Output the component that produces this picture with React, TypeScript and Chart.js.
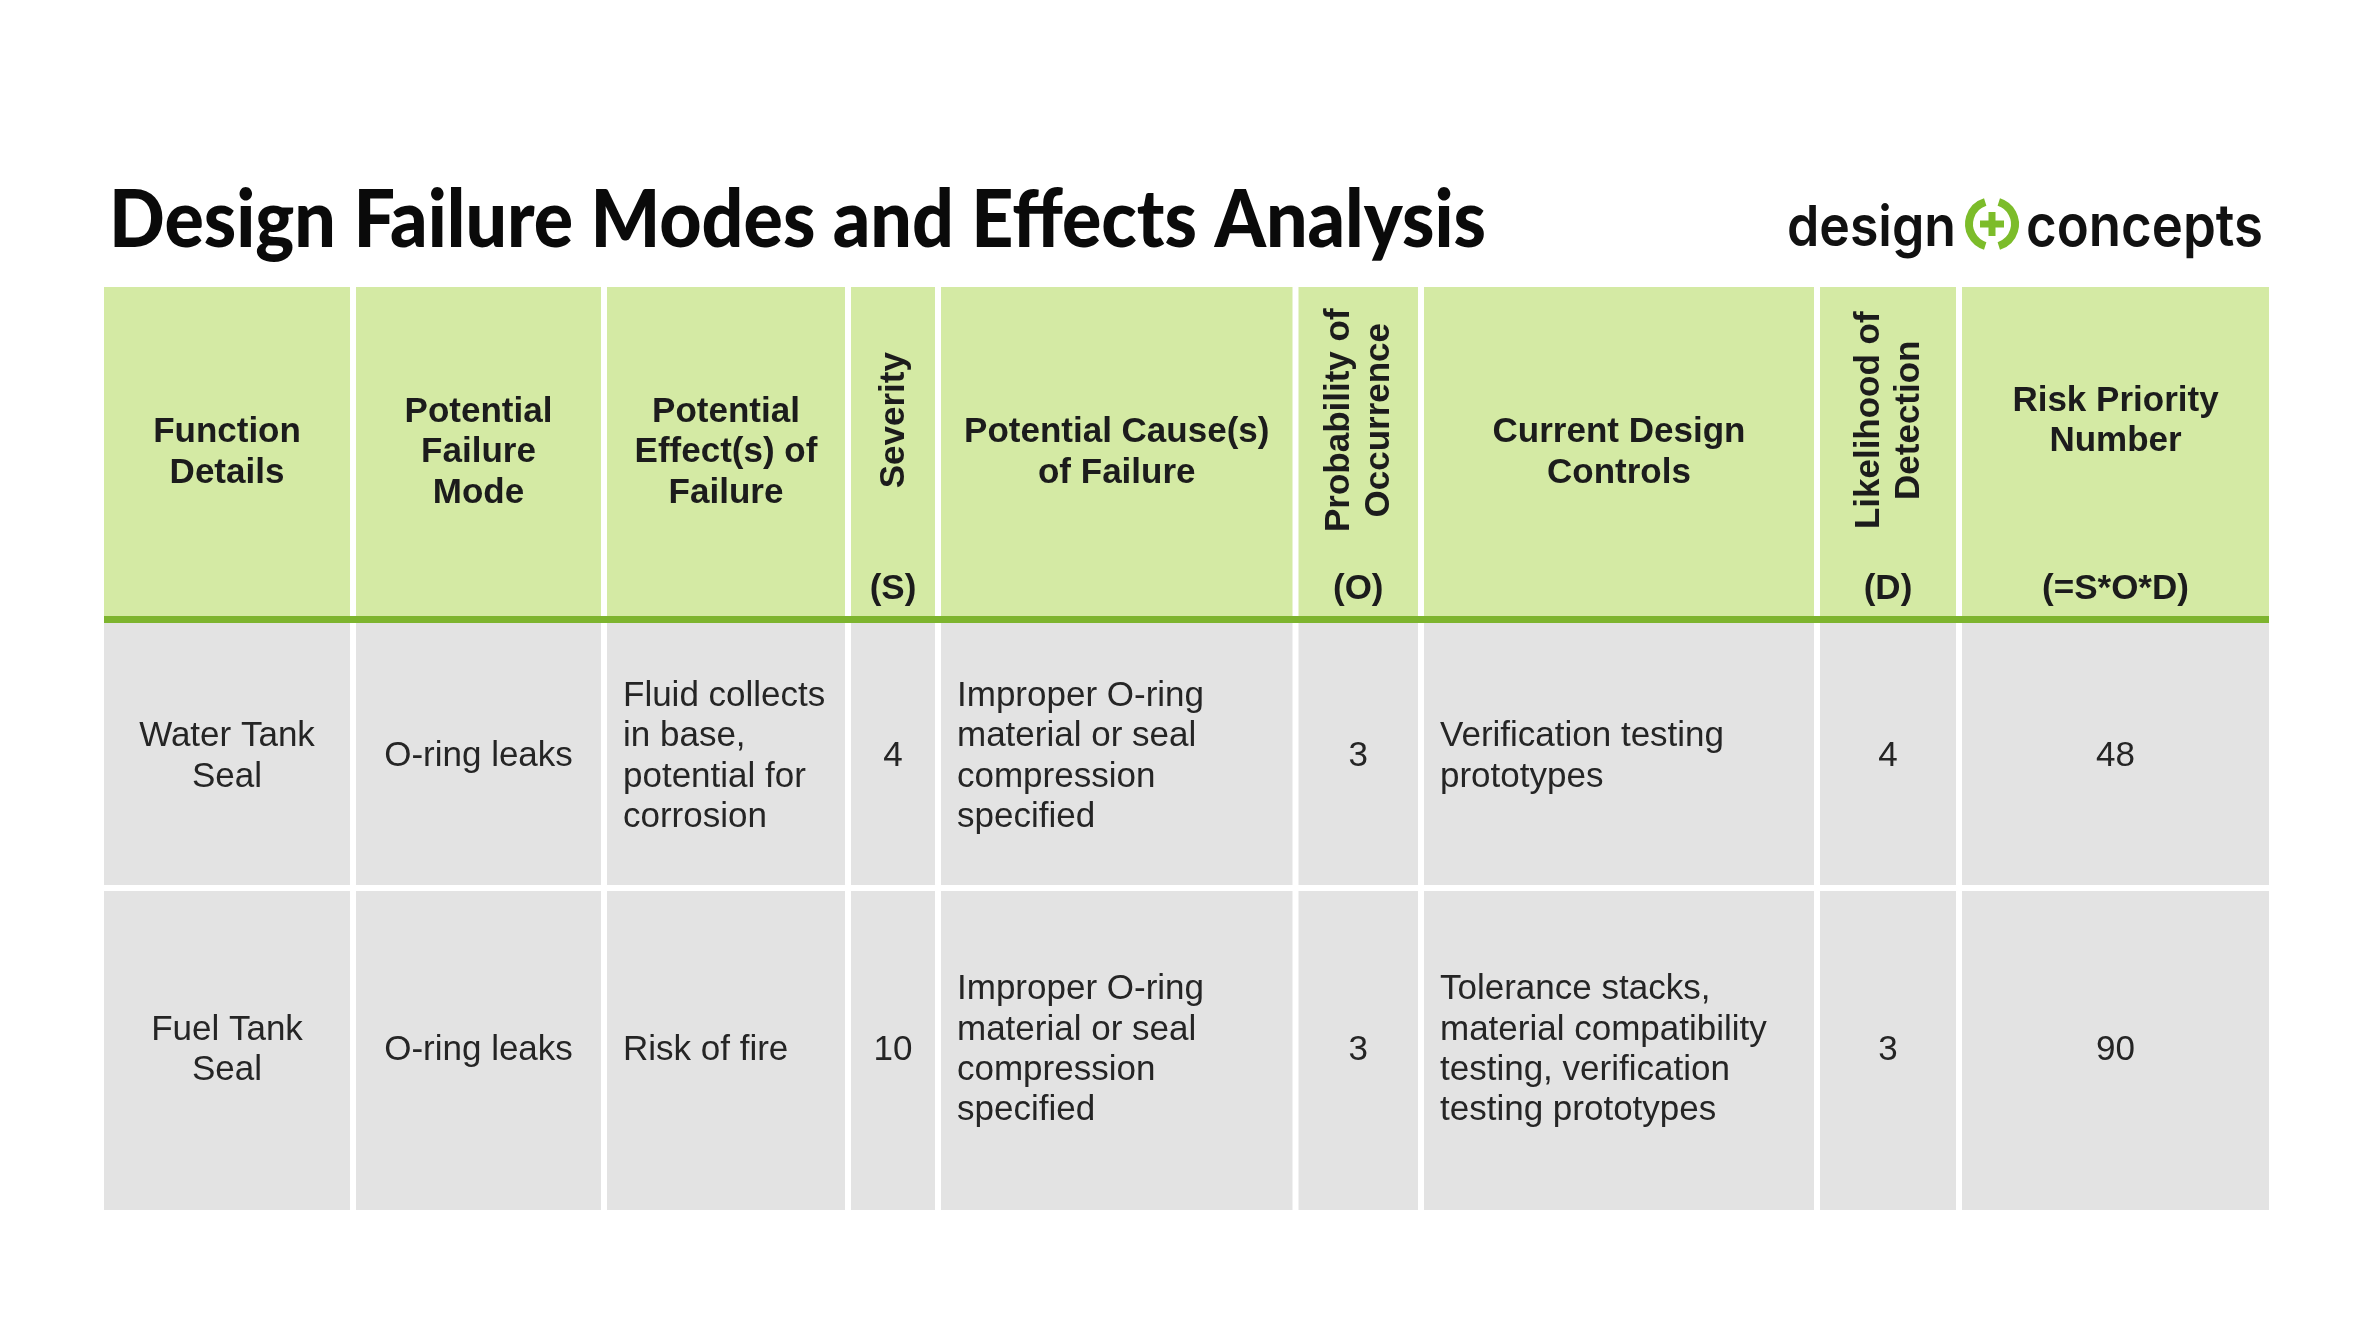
import React, { useEffect, useRef } from "react";
import { Chart, registerables } from "chart.js";

Chart.register(...registerables);

// ---------------- data ----------------
const TITLE = "Design Failure Modes and Effects Analysis";
const LOGO_LEFT = "design";
const LOGO_RIGHT = "concepts";

const HEADER_LABELS = [
  "Function\nDetails",
  "Potential\nFailure\nMode",
  "Potential\nEffect(s) of\nFailure",
  "Severity",
  "Potential Cause(s)\nof Failure",
  "Probability of\nOccurrence",
  "Current Design\nControls",
  "Likelihood of\nDetection",
  "Risk Priority\nNumber",
];
const HEADER_SUBLABELS = ["", "", "", "(S)", "", "(O)", "", "(D)", "(=S*O*D)"];
const HEADER_ROTATED = [false, false, false, true, false, true, false, true, false];

const FUNCTIONS = ["Water Tank\nSeal", "Fuel Tank\nSeal"];
const FAILURE_MODES = ["O-ring leaks", "O-ring leaks"];
const EFFECTS = ["Fluid collects\nin base,\npotential for\ncorrosion", "Risk of fire"];
const SEVERITY = [4, 10];
const CAUSES = [
  "Improper O-ring\nmaterial or seal\ncompression\nspecified",
  "Improper O-ring\nmaterial or seal\ncompression\nspecified",
];
const OCCURRENCE = [3, 3];
const CONTROLS = [
  "Verification testing\nprototypes",
  "Tolerance stacks,\nmaterial compatibility\ntesting, verification\ntesting prototypes",
];
const DETECTION = [4, 3];
const RPN = [48, 90];

// ---------------- layout / style ----------------
const COL_WIDTHS = [249, 251, 244, 90, 357.5, 125.5, 396, 142, 310];
const COL_ALIGN = ["center", "center", "left", "center", "left", "center", "left", "center", "center"];
const HEADER_H = 329;
const RULE_H = 7;
const ROW_H = [265, 322];
const GAP = 6;
const PAD = 16;
const TOTAL_W = COL_WIDTHS.reduce((a, b) => a + b, 0);
const TOTAL_H = HEADER_H + RULE_H + ROW_H.reduce((a, b) => a + b, 0);

const HEADER_FILL = "#d4eaa4";
const RULE_FILL = "#7db42e";
const BODY_FILL = "#e3e3e3";
const HEADER_TEXT = "#1c1c1c";
const BODY_TEXT = "#252525";
const LOGO_GREEN = "#7cbc2a";

const FONT_SIZE = 35;
const LINE_H = 40.3;
const HEAD_FONT = `bold ${FONT_SIZE}px "Liberation Sans", Arial, sans-serif`;
const BODY_FONT = `${FONT_SIZE}px "Liberation Sans", Arial, sans-serif`;

function drawLines(
  ctx: CanvasRenderingContext2D,
  text: string,
  x: number,
  cy: number,
  align: CanvasTextAlign
) {
  const lines = text.split("\n");
  ctx.textAlign = align;
  ctx.textBaseline = "alphabetic";
  lines.forEach((ln, i) => {
    const c = cy + (i - (lines.length - 1) / 2) * LINE_H;
    ctx.fillText(ln, x, c + 0.31 * FONT_SIZE);
  });
}

function fitText(
  ctx: CanvasRenderingContext2D,
  text: string,
  font: string,
  left: number,
  baseline: number,
  width: number,
  color: string
) {
  ctx.save();
  ctx.font = font;
  ctx.fillStyle = color;
  ctx.textAlign = "left";
  ctx.textBaseline = "alphabetic";
  const w = ctx.measureText(text).width;
  ctx.translate(left, baseline);
  ctx.scale(width / w, 1);
  ctx.fillText(text, 0, 0);
  ctx.restore();
}

// font sized so the text is `grow` times taller than a natural fit, then squeezed to width
function sizedText(
  ctx: CanvasRenderingContext2D,
  text: string,
  weight: string,
  family: string,
  left: number,
  baseline: number,
  width: number,
  grow: number,
  color: string
) {
  ctx.save();
  ctx.font = `${weight} 100px ${family}`;
  const w = ctx.measureText(text).width;
  const size = ((100 * width) / w) * grow;
  ctx.font = `${weight} ${size}px ${family}`;
  ctx.fillStyle = color;
  ctx.textAlign = "left";
  ctx.textBaseline = "alphabetic";
  ctx.translate(left, baseline);
  ctx.scale(1 / grow, 1);
  ctx.fillText(text, 0, 0);
  ctx.restore();
}

const tablePlugin = {
  id: "dfmeaTable",
  beforeDraw(chart: any) {
    const { ctx, width, height } = chart;
    ctx.save();
    ctx.fillStyle = "#ffffff";
    ctx.fillRect(0, 0, width, height);
    ctx.restore();
  },
  afterDraw(chart: any) {
    const { ctx } = chart;
    const xs = chart.scales.x;
    const ys = chart.scales.y;
    const px = (u: number) => xs.getPixelForValue(u);
    const py = (u: number) => ys.getPixelForValue(u);

    const edges = [0];
    COL_WIDTHS.forEach((w) => edges.push(edges[edges.length - 1] + w));
    const n = COL_WIDTHS.length;
    const colL = (i: number) => px(edges[i] + (i > 0 ? GAP / 2 : 0));
    const colR = (i: number) => px(edges[i + 1] - (i < n - 1 ? GAP / 2 : 0));

    ctx.save();
    // header cells
    ctx.fillStyle = HEADER_FILL;
    for (let i = 0; i < n; i++) {
      ctx.fillRect(colL(i), py(0), colR(i) - colL(i), py(HEADER_H) - py(0));
    }
    // green rule
    ctx.fillStyle = RULE_FILL;
    ctx.fillRect(px(0), py(HEADER_H), px(TOTAL_W) - px(0), py(HEADER_H + RULE_H) - py(HEADER_H));

    // body rows
    const rows = FUNCTIONS.map((_, r) => [
      FUNCTIONS[r],
      FAILURE_MODES[r],
      EFFECTS[r],
      String(SEVERITY[r]),
      CAUSES[r],
      String(OCCURRENCE[r]),
      CONTROLS[r],
      String(DETECTION[r]),
      String(RPN[r]),
    ]);
    let y0 = HEADER_H + RULE_H;
    rows.forEach((cells, r) => {
      const y1 = y0 + ROW_H[r];
      const top = py(y0 + (r > 0 ? GAP / 2 : 0));
      const bot = py(y1 - (r < rows.length - 1 ? GAP / 2 : 0));
      for (let i = 0; i < n; i++) {
        ctx.fillStyle = BODY_FILL;
        ctx.fillRect(colL(i), top, colR(i) - colL(i), bot - top);
      }
      const cy = py(y0 + ROW_H[r] / 2);
      ctx.fillStyle = BODY_TEXT;
      ctx.font = BODY_FONT;
      cells.forEach((txt, i) => {
        const left = COL_ALIGN[i] === "left";
        const x = left ? colL(i) + PAD : (colL(i) + colR(i)) / 2;
        drawLines(ctx, txt, x, cy, left ? "left" : "center");
      });
      y0 = y1;
    });

    // header text
    ctx.fillStyle = HEADER_TEXT;
    ctx.font = HEAD_FONT;
    for (let i = 0; i < n; i++) {
      const cx = (colL(i) + colR(i)) / 2;
      const hasSub = HEADER_SUBLABELS[i] !== "";
      const cy = py(hasSub ? HEADER_H * 0.405 : HEADER_H / 2);
      if (HEADER_ROTATED[i]) {
        ctx.save();
        ctx.translate(cx, cy);
        ctx.rotate(-Math.PI / 2);
        drawLines(ctx, HEADER_LABELS[i], 0, 0, "center");
        ctx.restore();
      } else {
        drawLines(ctx, HEADER_LABELS[i], cx, cy, "center");
      }
      if (hasSub) {
        drawLines(ctx, HEADER_SUBLABELS[i], cx, py(HEADER_H * 0.915), "center");
      }
    }
    ctx.restore();

    // title
    fitText(ctx, TITLE, `900 80px Lato, "DejaVu Sans", sans-serif`, 109, 247, 1377, "#0a0a0a");

    // logo
    const logoFamily = `Inter, "Noto Sans", sans-serif`;
    sizedText(ctx, LOGO_LEFT, "600", logoFamily, 1787, 246, 169, 1.1, "#111111");
    sizedText(ctx, LOGO_RIGHT, "600", logoFamily, 2026, 246, 237, 1.1, "#111111");
    const lcx = 1992;
    const lcy = 224;
    const R = 23;
    const gapA = 0.3;
    ctx.save();
    ctx.strokeStyle = LOGO_GREEN;
    ctx.lineWidth = 8;
    ctx.lineCap = "butt";
    ctx.beginPath();
    ctx.arc(lcx, lcy, R, -Math.PI / 2 + gapA, Math.PI / 2 - gapA);
    ctx.stroke();
    ctx.beginPath();
    ctx.arc(lcx, lcy, R, Math.PI / 2 + gapA, (3 * Math.PI) / 2 - gapA);
    ctx.stroke();
    ctx.fillStyle = LOGO_GREEN;
    ctx.fillRect(lcx - 12, lcy - 3.5, 24, 7);
    ctx.fillRect(lcx - 3.5, lcy - 12, 7, 24);
    ctx.restore();
  },
};

export default function App() {
  const ref = useRef<HTMLCanvasElement>(null);
  useEffect(() => {
    document.body.style.margin = "0";
    const canvas = ref.current;
    if (!canvas) return;
    const chart = new Chart(canvas, {
      type: "scatter",
      data: { datasets: [] },
      options: {
        responsive: false,
        animation: false,
        devicePixelRatio: 1,
        events: [],
        layout: { padding: { left: 104, top: 287, right: 103, bottom: 124 } },
        scales: {
          x: { type: "linear", min: 0, max: TOTAL_W, display: false },
          y: { type: "linear", min: 0, max: TOTAL_H, reverse: true, display: false },
        },
        plugins: {
          legend: { display: false },
          tooltip: { enabled: false },
          title: { display: false },
        },
      },
      plugins: [tablePlugin],
    } as any);
    return () => chart.destroy();
  }, []);
  return <canvas ref={ref} width={2372} height={1334} style={{ display: "block" }} />;
}
